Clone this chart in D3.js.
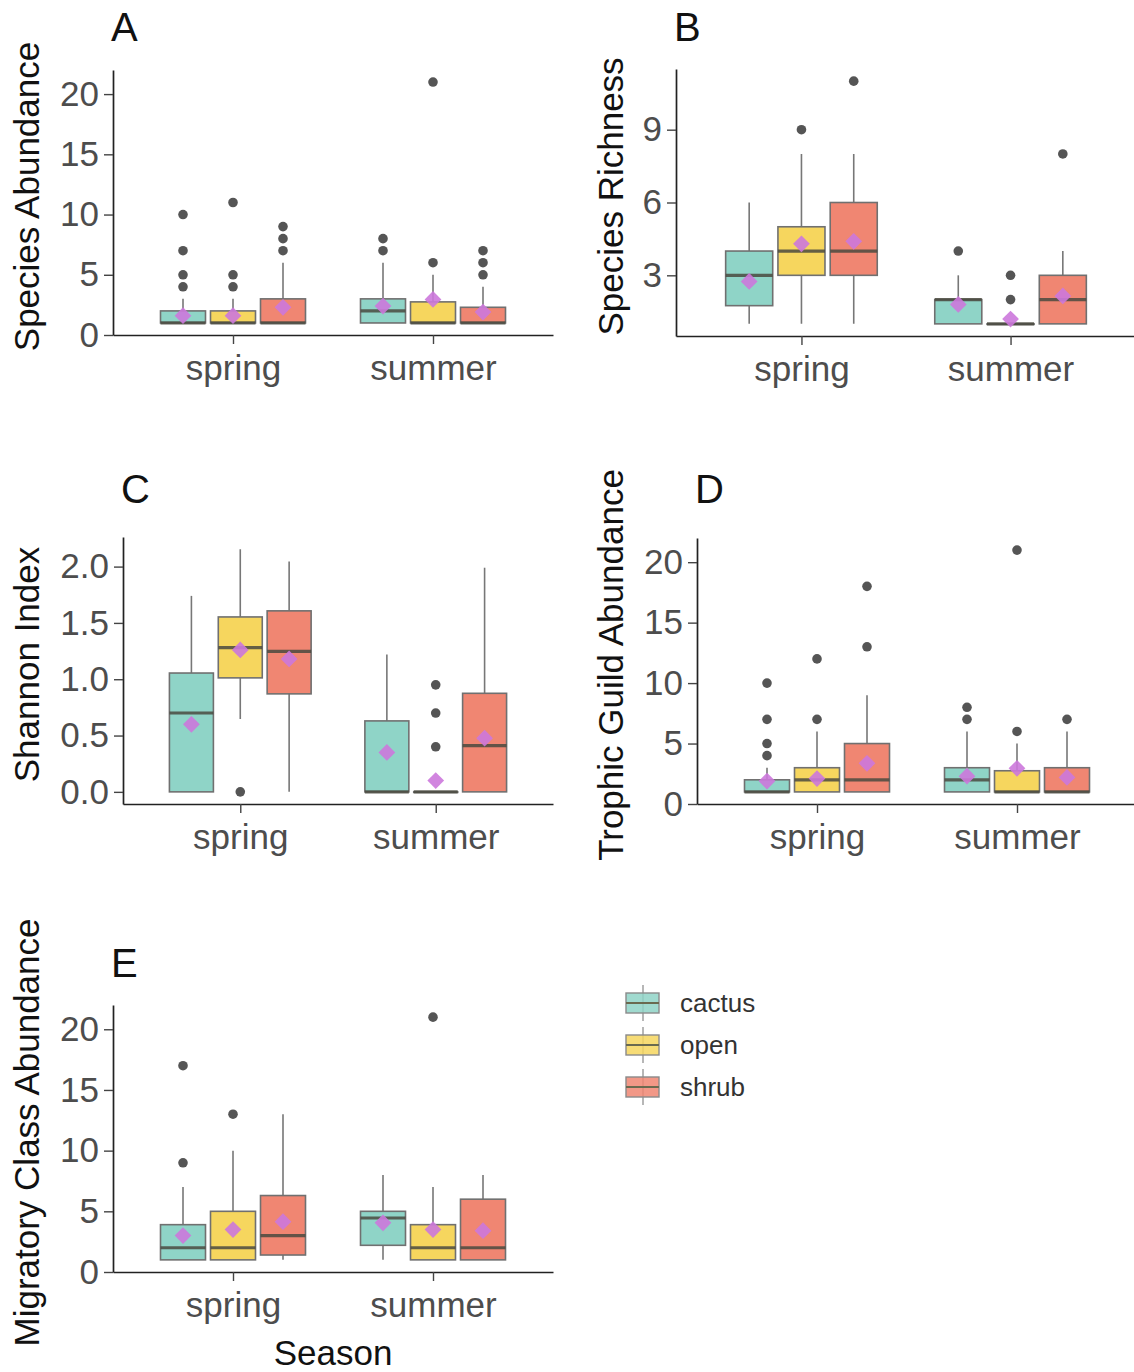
<!DOCTYPE html>
<html>
<head>
<meta charset="utf-8">
<script src="https://cdn.jsdelivr.net/npm/d3@7"></script>
<style>
  body { margin: 0; background: #fff; }
  svg { display: block; font-family: "Liberation Sans", Arial, sans-serif; }
</style>
</head>
<body>
<svg width="1134" height="1372"></svg>
<script>
const seasons = ["spring", "summer"];
const sites = ["cactus", "open", "shrub"];
const siteColors = ["#8fd4c7", "#f6d65e", "#f08672"];

// rows: spring cactus, spring open, spring shrub, summer cactus, summer open, summer shrub
// each row: [lower whisker, Q1, median, Q3, upper whisker, mean]
const abundanceBoxes = [
  [1, 1, 1, 2, 3, 1.6],
  [1, 1, 1, 2, 3, 1.6],
  [1, 1, 1, 3, 6, 2.3],
  [1, 1, 2, 3, 6, 2.4],
  [1, 1, 1, 2.75, 5, 2.95],
  [1, 1, 1, 2.3, 4, 1.9]
];
const abundanceOutliers = [[4, 5, 7, 10], [4, 5, 11], [7, 8, 9], [7, 8], [6, 21], [5, 6, 7]];

const richnessBoxes = [
  [1, 1.75, 3, 4, 6, 2.75],
  [1, 3, 4, 5, 8, 4.3],
  [1, 3, 4, 6, 8, 4.4],
  [1, 1, 2, 2, 3, 1.8],
  [1, 1, 1, 1, 1, 1.2],
  [1, 1, 2, 3, 4, 2.15]
];
const richnessOutliers = [[], [9], [11], [4], [2, 3], [8]];

const shannonBoxes = [
  [0, 0, 0.7, 1.055, 1.74, 0.6],
  [0.646, 1.012, 1.28, 1.553, 2.155, 1.26],
  [0, 0.87, 1.247, 1.607, 2.045, 1.18],
  [0, 0, 0, 0.63, 1.22, 0.35],
  [0, 0, 0, 0, 0, 0.1],
  [0, 0, 0.41, 0.875, 1.99, 0.477]
];
const shannonOutliers = [[], [0], [], [], [0.4, 0.7, 0.95], []];

const trophicBoxes = [
  [1, 1, 1, 2, 3, 1.9],
  [1, 1, 2, 3, 6, 2.1],
  [1, 1, 2, 5, 9, 3.36],
  [1, 1, 2, 3, 6, 2.3],
  [1, 1, 1, 2.75, 5, 2.95],
  [1, 1, 1, 3, 6, 2.2]
];
const trophicOutliers = [[4, 5, 7, 10], [7, 12], [13, 18], [7, 8], [6, 21], [7]];

const migratoryBoxes = [
  [1, 1, 2, 3.9, 7, 3.0],
  [1, 1, 2, 5, 10, 3.5],
  [1, 1.4, 3, 6.3, 13, 4.15],
  [1, 2.2, 4.45, 5, 8, 4.05],
  [1, 1, 2, 3.9, 7, 3.5],
  [1, 1, 2, 6, 8, 3.4]
];
const migratoryOutliers = [[9, 17], [13], [], [], [21], []];

const countTicks = [0, 5, 10, 15, 20];
const richnessTicks = [3, 6, 9];
const shannonTicks = [0, 0.5, 1, 1.5, 2];

const panels = [
  { tag: "A", ylab: "Species Abundance", boxes: abundanceBoxes, outliers: abundanceOutliers, ticks: countTicks, fmt: d3.format("d"),
    left: 113, right: 553, top: 70, bottom: 335, tagY: 41, titleX: 39 },
  { tag: "B", ylab: "Species Richness", boxes: richnessBoxes, outliers: richnessOutliers, ticks: richnessTicks, fmt: d3.format("d"),
    left: 676, right: 1136, top: 69, bottom: 336, tagY: 41, titleX: 623 },
  { tag: "C", ylab: "Shannon Index", boxes: shannonBoxes, outliers: shannonOutliers, ticks: shannonTicks, fmt: d3.format(".1f"),
    left: 123, right: 553, top: 537, bottom: 804, tagY: 503, titleX: 39 },
  { tag: "D", ylab: "Trophic Guild Abundance", boxes: trophicBoxes, outliers: trophicOutliers, ticks: countTicks, fmt: d3.format("d"),
    left: 697, right: 1137, top: 538, bottom: 804, tagY: 503, titleX: 623 },
  { tag: "E", ylab: "Migratory Class Abundance", boxes: migratoryBoxes, outliers: migratoryOutliers, ticks: countTicks, fmt: d3.format("d"),
    left: 113, right: 553, top: 1005, bottom: 1272, tagY: 977, titleX: 39, xlab: "Season" }
];

const svg = d3.select("svg");
const diamond = d3.symbol().type(d3.symbolSquare).size(140);

panels.forEach((p) => {
  // ggplot-style 5% expansion of the data range
  const all = p.boxes.flatMap((b) => [b[0], b[4]]).concat(p.outliers.flat());
  const [lo, hi] = d3.extent(all);
  const pad = (hi - lo) * 0.05;
  const y = d3.scaleLinear().domain([lo - pad, hi + pad]).range([p.bottom, p.top]);
  const x = d3.scalePoint().domain(seasons).range([p.left, p.right]).padding(0.6);
  const slot = x.step() * 0.25;
  const bw = slot * 0.9;

  const rows = p.boxes.map((b, i) => ({
    season: seasons[Math.floor(i / 3)],
    site: i % 3,
    lo: b[0], q1: b[1], med: b[2], q3: b[3], hi: b[4], mean: b[5],
    out: p.outliers[i]
  }));
  rows.forEach((r) => { r.cx = x(r.season) + (r.site - 1) * slot; });

  const g = svg.append("g");

  // whiskers
  g.selectAll(".whisk").data(rows).join("path")
    .attr("d", (r) => `M${r.cx},${y(r.hi)}V${y(r.q3)}M${r.cx},${y(r.q1)}V${y(r.lo)}`)
    .attr("stroke", "#777").attr("stroke-width", 1.6).attr("fill", "none");

  // boxes
  g.selectAll(".box").data(rows).join("rect")
    .attr("x", (r) => r.cx - bw / 2)
    .attr("width", bw)
    .attr("y", (r) => y(r.q3))
    .attr("height", (r) => Math.max(0.5, y(r.q1) - y(r.q3)))
    .attr("fill", (r) => siteColors[r.site])
    .attr("stroke", "#707070").attr("stroke-width", 1.6);

  // medians
  g.selectAll(".med").data(rows).join("line")
    .attr("x1", (r) => r.cx - bw / 2).attr("x2", (r) => r.cx + bw / 2)
    .attr("y1", (r) => y(r.med)).attr("y2", (r) => y(r.med))
    .attr("stroke", "#4a4a40").attr("stroke-opacity", 0.85).attr("stroke-width", 3.2);

  // outliers
  g.selectAll(".out").data(rows.flatMap((r) => r.out.map((v) => ({ cx: r.cx, v }))))
    .join("circle")
    .attr("cx", (d) => d.cx).attr("cy", (d) => y(d.v)).attr("r", 4.8)
    .attr("fill", "#555");

  // means
  g.selectAll(".mean").data(rows).join("path")
    .attr("d", diamond)
    .attr("transform", (r) => `translate(${r.cx},${y(r.mean)}) rotate(45)`)
    .attr("fill", "#cc78dc").attr("fill-opacity", 0.9);

  // axes
  const ya = svg.append("g").attr("transform", `translate(${p.left},0)`)
    .call(d3.axisLeft(y).tickValues(p.ticks).tickFormat(p.fmt).tickSize(9).tickPadding(5).tickSizeOuter(0));
  const xa = svg.append("g").attr("transform", `translate(0,${p.bottom})`)
    .call(d3.axisBottom(x).tickSize(9).tickPadding(11).tickSizeOuter(0));
  [ya, xa].forEach((a) => {
    a.attr("font-family", null).attr("font-size", null);
    a.select(".domain").attr("stroke", "#222").attr("stroke-width", 1.7);
    a.selectAll(".tick line").attr("stroke", "#444").attr("stroke-width", 1.4);
    a.selectAll(".tick text").attr("fill", "#4d4d4d").style("font-size", "35px");
  });

  // tag letter
  svg.append("text").attr("x", p.left - 2).attr("y", p.tagY)
    .attr("font-size", 40).attr("fill", "#111").text(p.tag);

  // y title
  svg.append("text")
    .attr("transform", `translate(${p.titleX},${(p.top + p.bottom) / 2 - 6}) rotate(-90)`)
    .attr("text-anchor", "middle").attr("font-size", 35).attr("fill", "#111")
    .text(p.ylab);

  if (p.xlab) {
    svg.append("text").attr("x", (p.left + p.right) / 2).attr("y", 1365)
      .attr("text-anchor", "middle").attr("font-size", 35).attr("fill", "#111")
      .text(p.xlab);
  }
});

// legend
const legend = svg.append("g").attr("transform", "translate(626,1003)");
const keys = legend.selectAll("g").data(sites).join("g")
  .attr("transform", (d, i) => `translate(0,${i * 42})`);
keys.append("line").attr("x1", 17).attr("x2", 17).attr("y1", -18).attr("y2", 18)
  .attr("stroke", "#999").attr("stroke-width", 1.4);
keys.append("rect").attr("x", 0).attr("y", -10).attr("width", 33).attr("height", 20)
  .attr("fill", (d, i) => siteColors[i]).attr("fill-opacity", 0.85)
  .attr("stroke", "#8a8a8a").attr("stroke-width", 1.4);
keys.append("line").attr("x1", 0).attr("x2", 33).attr("y1", 0).attr("y2", 0)
  .attr("stroke", "#6a6a50").attr("stroke-width", 2.2);
keys.append("text").attr("x", 54).attr("y", 9).attr("font-size", 26).attr("fill", "#333")
  .text((d) => d);
</script>
</body>
</html>
